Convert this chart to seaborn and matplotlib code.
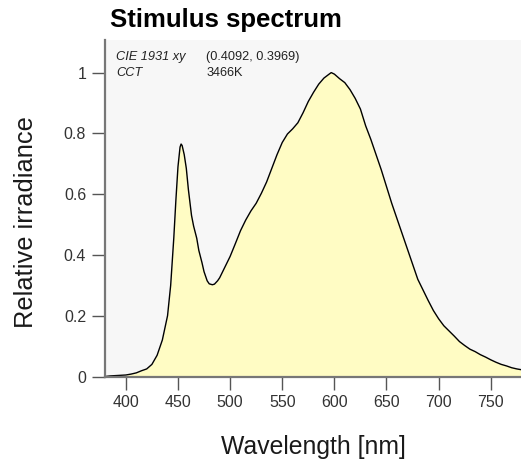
import numpy as np
import pandas as pd
import matplotlib
matplotlib.use("Agg")
import matplotlib.pyplot as plt
import seaborn as sns

# spectrum (nm, relative irradiance)
wavelength = [380, 385, 390, 395, 400, 405, 410, 415, 420, 425, 430, 435, 440,
              443, 446, 448, 450, 452, 453, 454, 456, 458, 460, 463, 465, 468,
              470, 473, 475, 478, 480, 483, 485, 488, 490, 495, 500, 505, 510,
              515, 520, 525, 530, 535, 540, 545, 550, 555, 560, 565, 570, 575,
              580, 585, 590, 595, 597, 600, 605, 610, 615, 620, 625, 630, 635,
              640, 645, 650, 655, 660, 665, 670, 675, 680, 685, 690, 695, 700,
              705, 710, 715, 720, 725, 730, 735, 740, 745, 750, 755, 760, 765,
              770, 775, 780]
irradiance = [0.0, 0.002, 0.003, 0.004, 0.005, 0.008, 0.012, 0.019, 0.025, 0.04,
              0.07, 0.12, 0.20, 0.30, 0.456, 0.58, 0.69, 0.755, 0.765, 0.76,
              0.73, 0.685, 0.615, 0.53, 0.495, 0.455, 0.415, 0.375, 0.345, 0.315,
              0.305, 0.302, 0.304, 0.315, 0.325, 0.36, 0.395, 0.437, 0.48, 0.515,
              0.545, 0.57, 0.603, 0.64, 0.685, 0.73, 0.77, 0.798, 0.815, 0.835,
              0.868, 0.905, 0.935, 0.962, 0.982, 0.995, 1.0, 0.995, 0.98, 0.967,
              0.944, 0.915, 0.88, 0.825, 0.78, 0.73, 0.68, 0.625, 0.57, 0.52,
              0.47, 0.42, 0.37, 0.32, 0.285, 0.25, 0.217, 0.19, 0.167, 0.15,
              0.133, 0.115, 0.102, 0.09, 0.082, 0.072, 0.064, 0.055, 0.047, 0.04,
              0.035, 0.029, 0.025, 0.022]

info_keys = ["CIE 1931 xy", "CCT"]
info_vals = ["(0.4092, 0.3969)", "3466K"]

df = pd.DataFrame({"Wavelength": wavelength, "Irradiance": irradiance})

sns.set_style("ticks")
plt.rcParams["font.family"] = ["Liberation Sans", "DejaVu Sans"]

fig = plt.figure(figsize=(5.21, 4.66), dpi=100)
ax = fig.add_axes([0.2015, 0.192, 0.7985, 0.722])
ax.set_facecolor("#f7f7f7")

ax.fill_between(df["Wavelength"], df["Irradiance"], 0, color="#fffcc4", lw=0)
sns.lineplot(data=df, x="Wavelength", y="Irradiance", ax=ax, color="black", lw=1.0)

ax.set_xlim(380, 779)
ax.set_ylim(0, 1.107)
ax.set_xticks([400, 450, 500, 550, 600, 650, 700, 750])
ax.set_yticks([0, 0.2, 0.4, 0.6, 0.8, 1.0])
ax.set_yticklabels(["0", "0.2", "0.4", "0.6", "0.8", "1"])

for s in ["top", "right"]:
    ax.spines[s].set_visible(False)
for s in ["left", "bottom"]:
    ax.spines[s].set_color("#777777")
    ax.spines[s].set_linewidth(1.6)
ax.tick_params(length=9.5, width=1.0, color="#555555", labelsize=11.5,
               labelcolor="#333333", pad=4)

ax.set_xlabel("Wavelength [nm]", fontsize=17.8, color="#1a1a1a")
ax.set_ylabel("Relative irradiance", fontsize=18.3, color="#1a1a1a")
ax.xaxis.set_label_coords(0.5, -0.175)
ax.yaxis.set_label_coords(-0.16, 0.459)

fig.text(0.211, 0.957, "Stimulus spectrum", fontsize=18.5, fontweight="bold",
         va="center", ha="left", color="black")

for i in range(len(info_keys)):
    ax.text(0.026, 0.95 - i * 0.048, info_keys[i], transform=ax.transAxes,
            fontsize=9.2, style="italic", va="center", color="#222222")
    ax.text(0.243, 0.95 - i * 0.048, info_vals[i], transform=ax.transAxes,
            fontsize=9.2, va="center", color="#222222")

fig.savefig("out.png", dpi=100)
